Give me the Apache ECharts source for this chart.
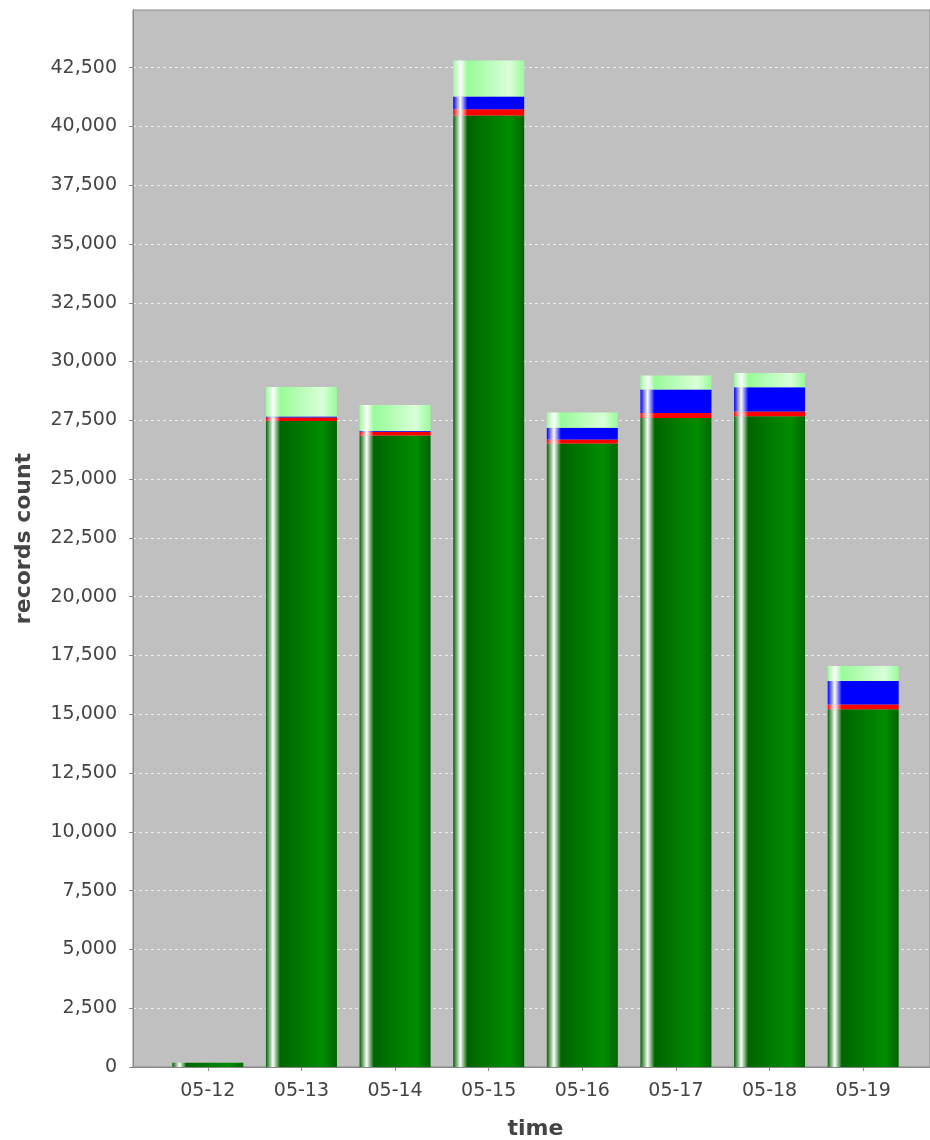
<!DOCTYPE html>
<html>
<head>
<meta charset="utf-8">
<script src="https://cdn.jsdelivr.net/npm/echarts@6/dist/echarts.min.js"></script>
<style>
  html, body { margin: 0; padding: 0; background: #fff; }
  #chart { width: 930px; height: 1140px; }
</style>
</head>
<body>
<div id="chart"></div>
<script>
// categories and stacked values (bottom to top)
const days = ['05-12', '05-13', '05-14', '05-15', '05-16', '05-17', '05-18', '05-19']
const okCount = [180, 27470, 26860, 40460, 26510, 27600, 27670, 15215]
const errCount = [0, 150, 150, 270, 170, 210, 210, 200]
const warnCount = [0, 40, 40, 540, 510, 1000, 1030, 1000]
const otherCount = [0, 1260, 1100, 1530, 640, 600, 600, 640]

const yMax = 44950
const font = 'DejaVu Sans'

// jfreechart style gradient: base -> white -> base -> brighter -> base
const barPaint = (base, bright) => ({
  type: 'linear', x: 0, y: 0, x2: 1, y2: 0,
  colorStops: [
    { offset: 0, color: base },
    { offset: 0.1, color: '#ffffff' },
    { offset: 0.2, color: base },
    { offset: 0.8, color: bright },
    { offset: 1, color: base }
  ]
})

const chart = echarts.init(document.getElementById('chart'))

const mkSeries = (name, data, base, bright) => ({
  name,
  type: 'bar',
  stack: 'total',
  xAxisIndex: 1,
  yAxisIndex: 1,
  barWidth: 71,
  data,
  itemStyle: { color: barPaint(base, bright) }
})

const option = {
  animation: false,
  grid: [
    {
      left: 133, right: 0, top: 10, bottom: 73, outerBoundsMode: 'none', containLabel: false,
      show: true, backgroundColor: '#c0c0c0', borderColor: '#888', borderWidth: 1
    },
    { left: 161, right: 20, top: 10, bottom: 73, outerBoundsMode: 'none', containLabel: false }
  ],
  xAxis: [
    {
      gridIndex: 0, type: 'value', min: 0, max: 1, offset: 5,
      axisLine: { show: true, lineStyle: { color: '#888', width: 1 } },
      axisTick: { show: false }, axisLabel: { show: false }, splitLine: { show: false }
    },
    {
      gridIndex: 1, type: 'category', data: days, offset: 5,
      axisLine: { show: false },
      axisTick: { show: true, alignWithLabel: true, length: 4, lineStyle: { color: '#888' } },
      axisLabel: { color: '#444', fontFamily: font, fontSize: 19, margin: 10 },
      name: 'time', nameLocation: 'middle', nameGap: 46,
      nameTextStyle: { color: '#444', fontFamily: font, fontSize: 22, fontWeight: 'bold' }
    }
  ],
  yAxis: [
    {
      gridIndex: 0, type: 'value', min: 0, max: yMax, interval: 2500, offset: 6,
      axisLine: { show: true, lineStyle: { color: '#888', width: 1 } },
      axisTick: { show: true, length: 4, lineStyle: { color: '#888' } },
      axisLabel: {
        color: '#444', fontFamily: font, fontSize: 19, margin: 10, showMaxLabel: false,
        formatter: v => v.toLocaleString('en-US')
      },
      splitLine: { show: true, showMaxLine: false, showMinLine: false, lineStyle: { color: '#eeeeee', type: [3, 3], width: 1 } },
      name: 'records count', nameLocation: 'middle', nameGap: 92,
      nameTextStyle: { color: '#444', fontFamily: font, fontSize: 22, fontWeight: 'bold' }
    },
    { gridIndex: 1, type: 'value', min: 0, max: yMax, show: false }
  ],
  series: [
    mkSeries('ok', okCount, '#006400', '#008e00'),
    mkSeries('error', errCount, '#ff0000', '#ff0000'),
    mkSeries('warn', warnCount, '#0000ff', '#0000ff'),
    mkSeries('other', otherCount, '#98fb98', '#d9ffd9')
  ]
}

chart.setOption(option)
</script>
</body>
</html>
